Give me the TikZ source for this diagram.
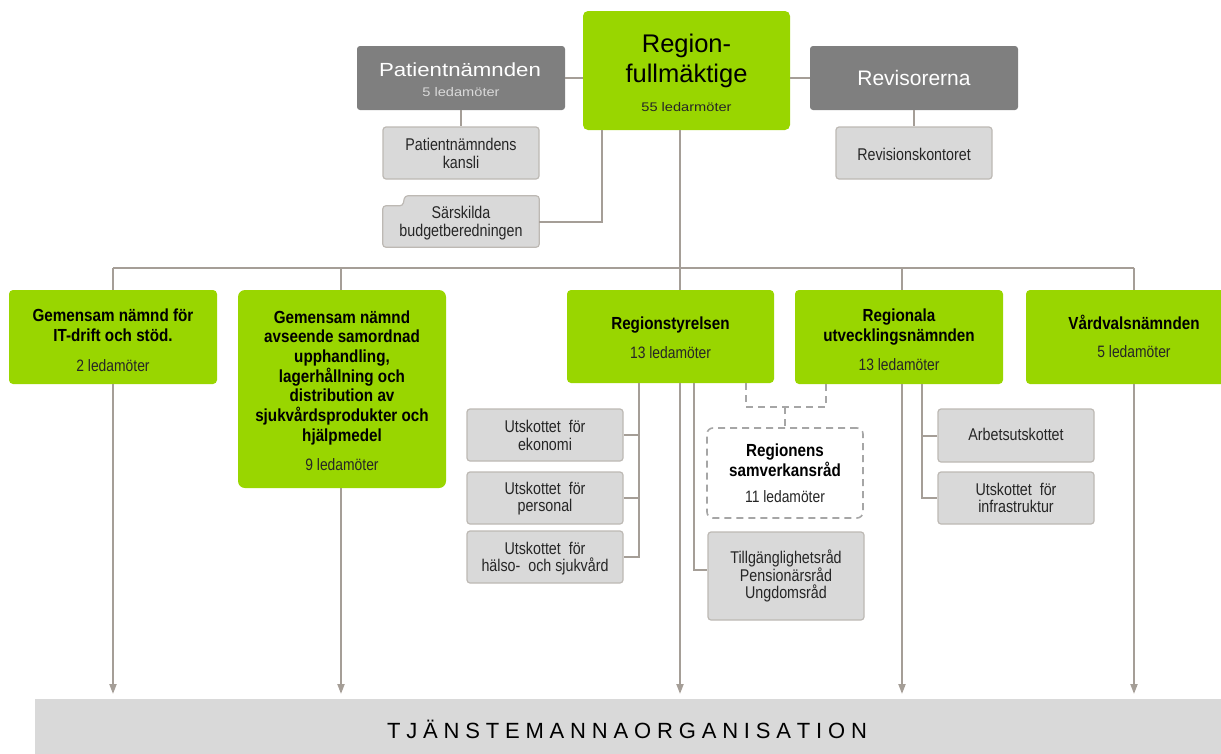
\documentclass[tikz,border=0pt]{standalone}
\usepackage{fontspec}
\setmainfont{Liberation Sans}
\newfontfamily\fcr{Liberation Sans}[FakeStretch=0.84]
\newfontfamily\fcb{Liberation Sans}[FakeStretch=0.87]
\newfontfamily\fw{Liberation Sans}[FakeStretch=1.17]
\usetikzlibrary{arrows.meta,calc}
\definecolor{lime}{HTML}{99D600}
\definecolor{dgrey}{HTML}{7F7F7F}
\definecolor{lgrey}{HTML}{D9D9D9}
\definecolor{lborder}{HTML}{BDB9B4}
\definecolor{conncol}{HTML}{A59E97}
\definecolor{dashgrey}{HTML}{A6A6A6}
\definecolor{txt}{HTML}{262626}
\tikzset{
  greenbox/.style={fill=lime, rounded corners=4pt, inner sep=0pt},
  darkbox/.style={fill=dgrey, rounded corners=3pt, inner sep=0pt, minimum width=208pt, minimum height=64pt},
  smallbox/.style={fill=lgrey, draw=lborder, line width=1.2pt, rounded corners=3pt, inner sep=0pt, minimum width=156pt, minimum height=52pt},
  dashbox/.style={fill=white, draw=dashgrey, line width=1.6pt, dash pattern=on 7pt off 5pt, rounded corners=6pt, inner sep=0pt},
  connector/.style={draw=conncol, line width=2pt},
  arrowc/.style={connector, -{Triangle[length=10pt,width=7pt]}},
  dashconn/.style={draw=dashgrey, line width=2pt, dash pattern=on 7pt off 5pt},
  tB/.style={anchor=base, inner sep=0pt, text=black, font=\fcb\bfseries\fontsize{17.5pt}{20pt}\selectfont},
  tL/.style={anchor=base, inner sep=0pt, text=txt, font=\fcr\fontsize{16.5pt}{18pt}\selectfont},
  tS/.style={anchor=base, inner sep=0pt, text=txt, font=\fcr\fontsize{17pt}{18pt}\selectfont},
  tW/.style={anchor=base, inner sep=0pt, text=white, font=\fw\fontsize{19pt}{22pt}\selectfont},
  tWs/.style={anchor=base, inner sep=0pt, font=\fw\fontsize{12.5pt}{14pt}\selectfont},
  tR/.style={anchor=base, inner sep=0pt, font=\fontsize{25.5pt}{30pt}\selectfont},
}
\begin{document}
\begin{tikzpicture}[x=1pt,y=-1pt]
\useasboundingbox (0,0) rectangle (1221,753);

% ---------- top level ----------
\node[greenbox, rounded corners=5pt, minimum width=207pt, minimum height=119pt] (rf) at (686.5,70.5) {};
\node[tR] (rf1) at (686.5,52.7) {Region-};
\node[tR] (rf2) at (686.5,82.7) {fullmäktige};
\node[tWs, text=txt] (rf3) at (686.5,111) {55 ledarmöter};

\node[darkbox] (pn) at (461,78) {};
\node[tW] (pn1) at (460,76.7) {Patientnämnden};
\node[tWs, text=lgrey] (pn2) at (461,96.7) {5 ledamöter};

\node[darkbox] (rv) at (914,78) {};
\node[anchor=base, inner sep=0pt, text=white, font=\fontsize{21pt}{24pt}\selectfont] (rv1) at (914,85.7) {Revisorerna};

\node[smallbox] (pk) at (461,153) {};
\node[tS] (pk1) at (461,150.7) {Patientnämndens};
\node[tS] (pk2) at (461,168.3) {kansli};

\node[inner sep=0pt, minimum width=156pt, minimum height=51pt] (sb) at (461,221.5) {};
\draw[fill=lgrey, draw=lborder, line width=1.2pt, rounded corners=3pt]
  (sb.south west) -- ($(sb.north west)+(0,10)$) -- ($(sb.north west)+(20,10)$)
  -- ($(sb.north west)+(22,0)$) -- (sb.north east) -- (sb.south east) -- cycle;
\node[tS] (sb1) at (461,218.3) {Särskilda};
\node[tS] (sb2) at (461,236.7) {budgetberedningen};

\node[smallbox] (rk) at (914,153) {};
\node[tS] (rk1) at (914,160) {Revisionskontoret};

% top connectors
\draw[connector] (pn.east) -- (rf.west |- pn.east);
\draw[connector] (rf.east |- rv.west) -- (rv.west);
\draw[connector] (pn.south) -- (pk.north);
\draw[connector] (rv.south) -- (rk.north);
\coordinate (rfx) at (602,0);
\draw[connector] (rf.south -| rfx) |- (sb.east);

% ---------- bus ----------
\coordinate (busc) at (680,267.5);
\coordinate (b1) at (113,267.5);
\coordinate (b2) at (341,267.5);
\coordinate (b4) at (902,267.5);
\coordinate (b5) at (1134,267.5);
\draw[connector] (rf.south -| busc) -- (busc);
\draw[connector] (b1) -- (b5);

% ---------- second level ----------
\node[greenbox, minimum width=208pt, minimum height=94pt] (g1) at (113,337) {};
\node[tB] (g1a) at (113,321.5) {Gemensam nämnd för};
\node[tB] (g1b) at (113,341.7) {IT-drift och stöd.};
\node[tL] (g1c) at (113,371) {2 ledamöter};

\node[greenbox, rounded corners=7pt, minimum width=208pt, minimum height=198pt] (g2) at (342,389) {};
\node[tB] (g2a) at (342,323) {Gemensam nämnd};
\node[tB] (g2b) at (342,342.7) {avseende samordnad};
\node[tB] (g2c) at (342,362.3) {upphandling,};
\node[tB] (g2d) at (342,382) {lagerhållning och};
\node[tB] (g2e) at (342,401.7) {distribution av};
\node[tB] (g2f) at (342,421.3) {sjukvårdsprodukter och};
\node[tB] (g2g) at (342,441) {hjälpmedel};
\node[tL] (g2h) at (342,470) {9 ledamöter};

\node[greenbox, minimum width=207pt, minimum height=93pt] (rs) at (670.5,336.5) {};
\node[tB] (rs1) at (670.5,329.3) {Regionstyrelsen};
\node[tL] (rs2) at (670.5,358.3) {13 ledamöter};

\node[greenbox, minimum width=208pt, minimum height=94pt] (rn) at (899,337) {};
\node[tB] (rn1) at (899,321) {Regionala};
\node[tB] (rn2) at (899,341) {utvecklingsnämnden};
\node[tL] (rn3) at (899,370.7) {13 ledamöter};

\node[greenbox, minimum width=216pt, minimum height=94pt] (vv) at (1134,337) {};
\node[tB] (vv1) at (1134,329.3) {Vårdvalsnämnden};
\node[tL] (vv2) at (1134,357.3) {5 ledamöter};

% bus drops
\draw[connector] (b1) -- (g1.north -| b1);
\draw[connector] (b2) -- (g2.north -| b2);
\draw[connector] (busc) -- (rs.north -| busc);
\draw[connector] (b4) -- (rn.north -| b4);
\draw[connector] (b5) -- (vv.north -| b5);

% ---------- committees ----------
\node[smallbox] (ue) at (545,435) {};
\node[tS] (ue1) at (545,432.3) {Utskottet\ \ för};
\node[tS] (ue2) at (545,450) {ekonomi};
\node[smallbox] (up) at (545,498) {};
\node[tS] (up1) at (545,494) {Utskottet\ \ för};
\node[tS] (up2) at (545,511.7) {personal};
\node[smallbox] (uh) at (545,557) {};
\node[tS] (uh1) at (545,554) {Utskottet\ \ för};
\node[tS] (uh2) at (545,571.7) {hälso-\ \ och sjukvård};

\coordinate (rsl) at (639,383);
\draw[connector] (rsl) |- (uh.east);
\draw[connector] (ue.east) -- (ue.east -| rsl);
\draw[connector] (up.east) -- (up.east -| rsl);

\node[smallbox, minimum height=88pt] (tg) at (786,576) {};
\node[tS] (tg1) at (786,563.3) {Tillgänglighetsråd};
\node[tS] (tg2) at (786,581) {Pensionärsråd};
\node[tS] (tg3) at (786,598.3) {Ungdomsråd};
\coordinate (rsr) at (694,383);
\draw[connector] (rsr) |- ($(tg.west)+(0,-6)$);

\node[dashbox, minimum width=156pt, minimum height=90pt] (sv) at (785,473) {};
\node[tB] (sv1) at (785,456.7) {Regionens};
\node[tB] (sv2) at (785,476.7) {samverkansråd};
\node[tL] (sv3) at (785,502.7) {11 ledamöter};
\coordinate (ds1) at (746,383);
\coordinate (ds2) at (826,384);
\coordinate (dmid) at (785,407);
\draw[dashconn] (ds1) |- (dmid) -| (ds2);
\draw[dashconn] (dmid) -- (sv.north);

\node[smallbox, minimum height=53pt] (au) at (1016,435.5) {};
\node[tS] (au1) at (1016,440.7) {Arbetsutskottet};
\node[smallbox] (ui) at (1016,498) {};
\node[tS] (ui1) at (1016,495) {Utskottet\ \ för};
\node[tS] (ui2) at (1016,512.3) {infrastruktur};
\coordinate (rnl) at (922,384);
\draw[connector] (rnl) |- (ui.west);
\draw[connector] (au.west) -- (au.west -| rnl);

% ---------- bottom ----------
\node[fill=lgrey, inner sep=0pt, minimum width=1210pt, minimum height=66pt] (tj) at (640,732) {};
\node[anchor=base, inner sep=0pt, text=black, font=\fontsize{22pt}{24pt}\selectfont] (tj1) at (627,738)
  {\makebox[480pt][s]{T\hfill J\hfill Ä\hfill N\hfill S\hfill T\hfill E\hfill M\hfill A\hfill N\hfill N\hfill A\hfill O\hfill R\hfill G\hfill A\hfill N\hfill I\hfill S\hfill A\hfill T\hfill I\hfill O\hfill N}};

\coordinate (a1) at (113,694);
\coordinate (a2) at (341,694);
\coordinate (a3) at (680,694);
\coordinate (a4) at (902,694);
\coordinate (a5) at (1134,694);
\draw[arrowc] (g1.south -| a1) -- (a1);
\draw[arrowc] (g2.south -| a2) -- (a2);
\draw[arrowc] (rs.south -| a3) -- (a3);
\draw[arrowc] (rn.south -| a4) -- (a4);
\draw[arrowc] (vv.south -| a5) -- (a5);
\end{tikzpicture}
\end{document}
